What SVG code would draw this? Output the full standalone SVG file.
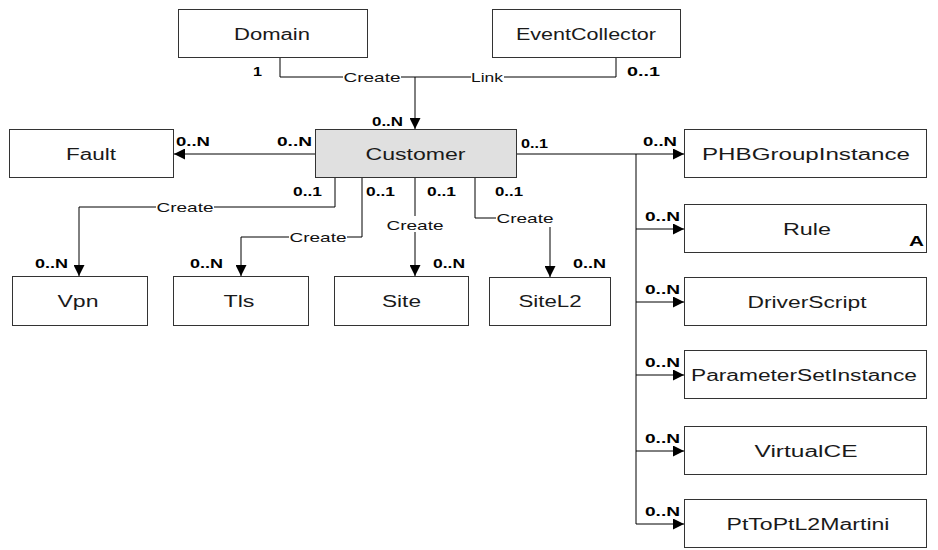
<svg xmlns="http://www.w3.org/2000/svg" width="938" height="550" viewBox="0 0 938 550">
  <defs>
    <marker id="arrow" markerUnits="userSpaceOnUse" markerWidth="11" markerHeight="11" refX="11" refY="5.5" orient="auto">
      <path d="M0,0 L11,5.5 L0,11 z" fill="#000"/>
    </marker>
    <style>
      .box { fill: #fff; stroke: #333; stroke-width: 1; }
      .box.main { fill: #e0e0e0; }
      .n { font-family: "Liberation Sans", Arial, sans-serif; font-size: 16px; fill: #1a1a1a; text-anchor: middle; }
      .m { font-family: "Liberation Sans", Arial, sans-serif; font-size: 13px; font-weight: bold; fill: #000; }
      .c { font-family: "Liberation Sans", Arial, sans-serif; font-size: 13px; fill: #111; text-anchor: middle; }
      .ln { fill: none; stroke: #000; stroke-width: 1; }
      .arr { marker-end: url(#arrow); }
      .bg { fill: #fff; }
    </style>
  </defs>
  <rect width="938" height="550" fill="#fff"/>

  <!-- connectors -->
  <g id="connectors">
    <!-- Domain / EventCollector to Customer -->
    <path class="ln" d="M280,58 V77 H616 V58"/>
    <path class="ln arr" d="M415,77 V129"/>
    <!-- Customer to Fault -->
    <path class="ln arr" d="M315,154 H174"/>
    <!-- Customer to bottom row -->
    <path class="ln arr" d="M335,178 V207 H79 V276"/>
    <path class="ln arr" d="M362,178 V237 H241 V276"/>
    <path class="ln arr" d="M415,178 V276"/>
    <path class="ln arr" d="M475,178 V218 H550 V277"/>
    <!-- Customer to right column -->
    <path class="ln" d="M516,154 H636 V524"/>
    <path class="ln arr" d="M636,154 H684"/>
    <path class="ln arr" d="M636,229 H684"/>
    <path class="ln arr" d="M636,302 H684"/>
    <path class="ln arr" d="M636,375 H684"/>
    <path class="ln arr" d="M636,451 H684"/>
    <path class="ln arr" d="M636,524 H684"/>

    <!-- connector labels -->
    <rect class="bg" x="343" y="70" width="58" height="14"/>
    <text class="c" x="372" y="81.5" textLength="57" lengthAdjust="spacingAndGlyphs">Create</text>
    <rect class="bg" x="471" y="70" width="33" height="14"/>
    <text class="c" x="487" y="81.5" textLength="32" lengthAdjust="spacingAndGlyphs">Link</text>
    <rect class="bg" x="156" y="200" width="58" height="14"/>
    <text class="c" x="185" y="211.5" textLength="57" lengthAdjust="spacingAndGlyphs">Create</text>
    <rect class="bg" x="289" y="230" width="58" height="14"/>
    <text class="c" x="318" y="241.5" textLength="57" lengthAdjust="spacingAndGlyphs">Create</text>
    <rect class="bg" x="386" y="216" width="58" height="16"/>
    <text class="c" x="415" y="229.5" textLength="57" lengthAdjust="spacingAndGlyphs">Create</text>
    <rect class="bg" x="496" y="209" width="60" height="18"/>
    <text class="c" x="525" y="222.5" textLength="57" lengthAdjust="spacingAndGlyphs">Create</text>

    <!-- multiplicities -->
    <text class="m" x="253" y="76" textLength="9" lengthAdjust="spacingAndGlyphs">1</text>
    <text class="m" x="627" y="76" textLength="33" lengthAdjust="spacingAndGlyphs">0..1</text>
    <text class="m" x="372" y="126" textLength="31" lengthAdjust="spacingAndGlyphs">0..N</text>
    <text class="m" x="176" y="146" textLength="34" lengthAdjust="spacingAndGlyphs">0..N</text>
    <text class="m" x="277" y="146" textLength="35" lengthAdjust="spacingAndGlyphs">0..N</text>
    <text class="m" x="521" y="148" textLength="27" lengthAdjust="spacingAndGlyphs">0..1</text>
    <text class="m" x="293" y="196" textLength="29" lengthAdjust="spacingAndGlyphs">0..1</text>
    <text class="m" x="366" y="196" textLength="29" lengthAdjust="spacingAndGlyphs">0..1</text>
    <text class="m" x="427" y="196" textLength="29" lengthAdjust="spacingAndGlyphs">0..1</text>
    <text class="m" x="495" y="196" textLength="28" lengthAdjust="spacingAndGlyphs">0..1</text>
    <text class="m" x="35" y="268" textLength="33" lengthAdjust="spacingAndGlyphs">0..N</text>
    <text class="m" x="190" y="268" textLength="33" lengthAdjust="spacingAndGlyphs">0..N</text>
    <text class="m" x="433" y="268" textLength="32" lengthAdjust="spacingAndGlyphs">0..N</text>
    <text class="m" x="573" y="268" textLength="33" lengthAdjust="spacingAndGlyphs">0..N</text>
    <text class="m" x="643" y="146" textLength="34" lengthAdjust="spacingAndGlyphs">0..N</text>
    <text class="m" x="645" y="221" textLength="35" lengthAdjust="spacingAndGlyphs">0..N</text>
    <text class="m" x="645" y="294" textLength="35" lengthAdjust="spacingAndGlyphs">0..N</text>
    <text class="m" x="645" y="367" textLength="35" lengthAdjust="spacingAndGlyphs">0..N</text>
    <text class="m" x="645" y="443" textLength="35" lengthAdjust="spacingAndGlyphs">0..N</text>
    <text class="m" x="645" y="516" textLength="35" lengthAdjust="spacingAndGlyphs">0..N</text>
  </g>

  <!-- nodes -->
  <g id="domain">
    <rect class="box" x="178.5" y="9.5" width="189" height="48"/>
    <text class="n" x="272" y="39.5" textLength="76" lengthAdjust="spacingAndGlyphs">Domain</text>
  </g>
  <g id="eventcollector">
    <rect class="box" x="492.5" y="9.5" width="188" height="48"/>
    <text class="n" x="586" y="39.5" textLength="140" lengthAdjust="spacingAndGlyphs">EventCollector</text>
  </g>
  <g id="customer">
    <rect class="box main" x="315.5" y="129.5" width="201" height="48"/>
    <text class="n" x="415.5" y="160" textLength="100" lengthAdjust="spacingAndGlyphs">Customer</text>
  </g>
  <g id="fault">
    <rect class="box" x="9.5" y="129.5" width="164" height="48"/>
    <text class="n" x="91" y="160" textLength="50" lengthAdjust="spacingAndGlyphs">Fault</text>
  </g>
  <g id="vpn">
    <rect class="box" x="12.5" y="276.5" width="135" height="49"/>
    <text class="n" x="78" y="307" textLength="41" lengthAdjust="spacingAndGlyphs">Vpn</text>
  </g>
  <g id="tls">
    <rect class="box" x="173.5" y="276.5" width="135" height="49"/>
    <text class="n" x="239" y="307" textLength="31" lengthAdjust="spacingAndGlyphs">Tls</text>
  </g>
  <g id="site">
    <rect class="box" x="334.5" y="276.5" width="134" height="49"/>
    <text class="n" x="401.5" y="307" textLength="39" lengthAdjust="spacingAndGlyphs">Site</text>
  </g>
  <g id="sitel2">
    <rect class="box" x="489.5" y="277.5" width="121" height="48"/>
    <text class="n" x="550" y="307" textLength="63" lengthAdjust="spacingAndGlyphs">SiteL2</text>
  </g>
  <g id="phbgroupinstance">
    <rect class="box" x="684.5" y="129.5" width="242" height="48"/>
    <text class="n" x="806" y="160" textLength="208" lengthAdjust="spacingAndGlyphs">PHBGroupInstance</text>
  </g>
  <g id="rule">
    <rect class="box" x="684.5" y="204.5" width="242" height="48"/>
    <text class="n" x="807" y="235" textLength="48" lengthAdjust="spacingAndGlyphs">Rule</text>
    <text class="m" x="909" y="246" style="font-size:14px" textLength="15" lengthAdjust="spacingAndGlyphs">A</text>
  </g>
  <g id="driverscript">
    <rect class="box" x="684.5" y="277.5" width="242" height="48"/>
    <text class="n" x="807" y="308" textLength="119" lengthAdjust="spacingAndGlyphs">DriverScript</text>
  </g>
  <g id="parametersetinstance">
    <rect class="box" x="684.5" y="350.5" width="242" height="48"/>
    <text class="n" x="804" y="381" textLength="226" lengthAdjust="spacingAndGlyphs">ParameterSetInstance</text>
  </g>
  <g id="virtualce">
    <rect class="box" x="684.5" y="426.5" width="242" height="48"/>
    <text class="n" x="806" y="457" textLength="103" lengthAdjust="spacingAndGlyphs">VirtualCE</text>
  </g>
  <g id="pttoptl2martini">
    <rect class="box" x="684.5" y="499.5" width="242" height="48"/>
    <text class="n" x="808" y="530" textLength="163" lengthAdjust="spacingAndGlyphs">PtToPtL2Martini</text>
  </g>
</svg>
